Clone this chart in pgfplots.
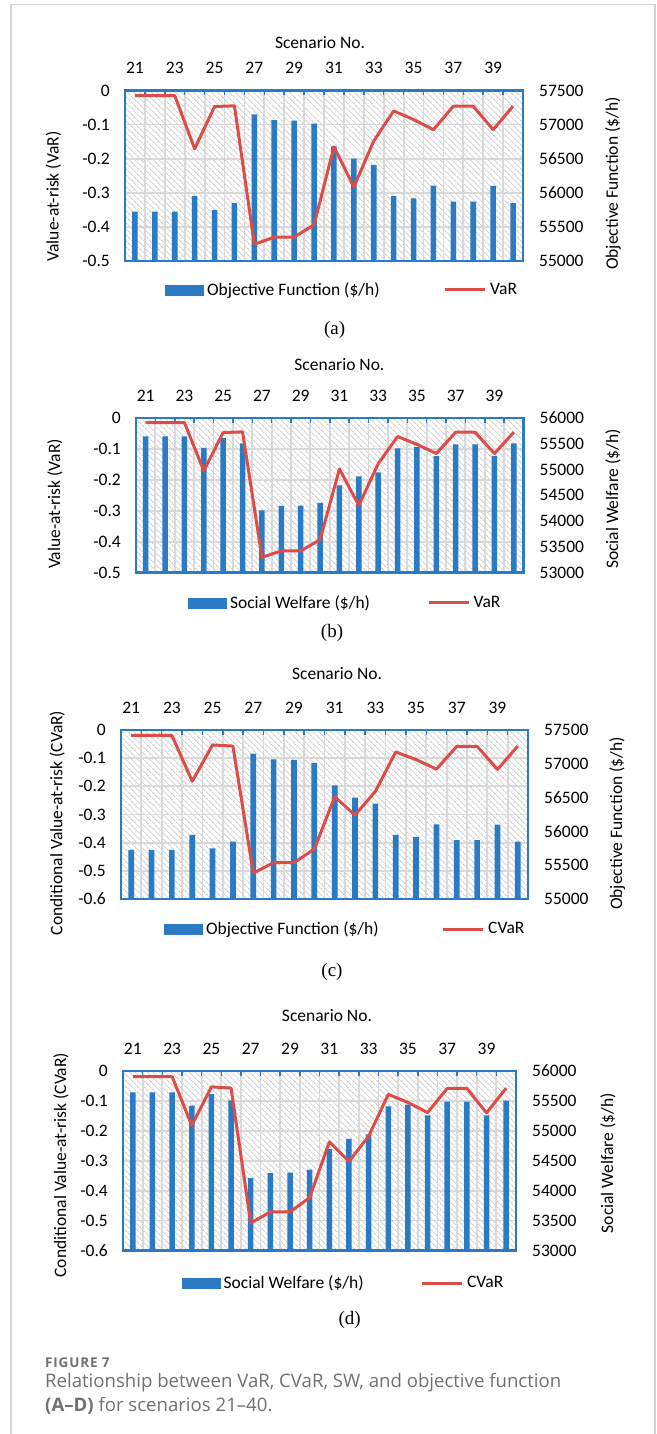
\documentclass[border=0pt]{standalone}
\usepackage{pgfplots}
\pgfplotsset{compat=1.18}
\usepackage{pgfplotstable}
\usepackage{fontspec}
\setmainfont{Carlito}
\newfontfamily\seriffont{Liberation Serif}
\newfontfamily\capfont{Open Sans}
\usetikzlibrary{patterns.meta}

\definecolor{barblue}{RGB}{42,122,196}
\definecolor{varred}{RGB}{222,76,72}
\definecolor{gridgray}{RGB}{217,217,217}
\definecolor{hatchgray}{RGB}{206,206,206}
\definecolor{framegray}{RGB}{212,212,212}
\definecolor{capgray}{RGB}{112,112,112}

\newcommand{\chartfont}{\fontsize{17.5}{20}\selectfont}

% scenario, objective function, social welfare, VaR, CVaR
\pgfplotstableread{
s   OF     SW     VaR     CVaR
21  55725  55645  -0.015  -0.019
22  55725  55645  -0.015  -0.019
23  55725  55645  -0.015  -0.019
24  55950  55420  -0.171  -0.182
25  55750  55615  -0.047  -0.053
26  55850  55508  -0.045  -0.057
27  57150  54208  -0.451  -0.508
28  57065  54295  -0.430  -0.471
29  57060  54300  -0.430  -0.471
30  57015  54350  -0.394  -0.423
31  56680  54693  -0.165  -0.237
32  56500  54865  -0.283  -0.302
33  56410  54943  -0.148  -0.218
34  55950  55410  -0.060  -0.078
35  55920  55437  -0.085  -0.105
36  56105  55260  -0.115  -0.139
37  55870  55487  -0.046  -0.058
38  55870  55487  -0.046  -0.058
39  56100  55260  -0.115  -0.140
40  55850  55507  -0.046  -0.057
}\scen

\pgfplotsset{
  panelbase/.style={scale only axis, xmin=20.5, xmax=40.5,
    tick label style={font=\chartfont}, label style={font=\chartfont},
    legend style={font=\chartfont}},
  % hatched plot area, grid and all left/top labels
  gridlayer/.style={panelbase, axis line style={draw=none}, major tick length=0pt,
    xtick={20.5,21.5,...,40.5}, xticklabels={},
    extra x ticks={21,23,...,39},
    extra x tick labels={21,23,25,27,29,31,33,35,37,39},
    extra x tick style={grid=none},
    xticklabel pos=right,
    xticklabel style={anchor=south, inner sep=0pt, yshift=16.5pt},
    xmajorgrids, ymajorgrids, grid style={gridgray, line width=1.8pt},
    yticklabel style={anchor=east, inner sep=0pt, xshift=-15pt},
    axis background/.style={pattern={Lines[angle=-45,distance=4pt,line width=0.9pt]},
      pattern color=hatchgray}},
  % bars on the right-hand scale
  barlayer/.style={panelbase, axis x line=none, axis y line*=right,
    axis line style={draw=none}, major tick length=0pt, scaled y ticks=false,
    yticklabel style={anchor=west, inner sep=0pt, xshift=16pt},
    ybar, bar width=0.28, bar shift=0pt},
  % risk curve, blue frame, top ticks and legend
  linelayer/.style={panelbase, axis line style={barblue, line width=2.2pt},
    xtick={20.5,21.5,...,40.5}, xticklabels={}, xtick pos=right,
    tick align=inside, major tick length=5pt,
    xtick style={barblue, line width=1.5pt}, ytick=\empty,
    legend columns=2, legend cell align=left,
    legend style={draw=none, fill=none, inner sep=0pt, nodes={inner sep=0pt},
      /tikz/every odd column/.append style={column sep=3.5pt}}},
  barkey/.style={legend image code/.code={\fill[barblue] (0pt,-5pt) rectangle (38pt,5pt);}},
  linekey/.style={legend image code/.code={\draw[varred, line width=3pt] (0pt,0pt) -- (40pt,0pt);}},
  riskline/.style={varred, line width=3pt, line join=round, mark=none},
  varticks/.style={ymin=-0.5, ymax=0, ytick={-0.5,-0.4,-0.3,-0.2,-0.1,0},
    yticklabels={-0.5,-0.4,-0.3,-0.2,-0.1,0}},
  cvarticks/.style={ymin=-0.6, ymax=0, ytick={-0.6,-0.5,-0.4,-0.3,-0.2,-0.1,0},
    yticklabels={-0.6,-0.5,-0.4,-0.3,-0.2,-0.1,0}},
  ofticks/.style={ymin=55000, ymax=57500, ytick={55000,55500,56000,56500,57000,57500},
    yticklabels={55000,55500,56000,56500,57000,57500}},
  swticks/.style={ymin=53000, ymax=56000, ytick={53000,53500,54000,54500,55000,55500,56000},
    yticklabels={53000,53500,54000,54500,55000,55500,56000}},
}

\begin{document}
\begin{tikzpicture}
\useasboundingbox (0,0) rectangle (656pt,-1434pt);
\draw[framegray, line width=1.3pt] (11pt,-1440pt) -- (11pt,-4.5pt) -- (655pt,-4.5pt) -- (655pt,-1440pt);

% ---------------- (a) ----------------
\begin{axis}[gridlayer, varticks, at={(125pt,-90.5pt)}, anchor=north west,
  width=398pt, height=170.5pt,
  xlabel={Scenario No.}, xlabel style={at={(axis description cs:0.490,1)}, anchor=center, yshift=48pt},
  ylabel={Value-at-risk (VaR)}, ylabel style={at={(axis description cs:-0.1796,0.378)}, anchor=center}]
\end{axis}
\begin{axis}[barlayer, ofticks, at={(125pt,-90.5pt)}, anchor=north west,
  width=398pt, height=170.5pt,
  ylabel={Objective Function (\$/h)}, ylabel style={at={(axis description cs:1.226,0.4545)}, anchor=center}]
\addplot[fill=barblue, draw=none] table[x=s, y=OF] {\scen};
\end{axis}
\begin{axis}[linelayer, varticks, ytick=\empty, at={(125pt,-90.5pt)}, anchor=north west,
  width=398pt, height=170.5pt,
  legend style={at={(axis description cs:0.1005,-0.170)}, anchor=west,
    /tikz/every even column/.append style={column sep=64pt}}]
\addlegendimage{barkey}\addlegendentry{Objective Function (\$/h)}
\addplot[riskline, linekey] table[x=s, y=VaR] {\scen};
\addlegendentry{VaR}
\end{axis}
\node[font=\seriffont\fontsize{19}{22}\selectfont] at (334.6pt,-330pt) {(a)};

% ---------------- (b) ----------------
\begin{axis}[gridlayer, varticks, at={(136pt,-418pt)}, anchor=north west,
  width=387.5pt, height=154.5pt,
  xlabel={Scenario No.}, xlabel style={at={(axis description cs:0.525,1)}, anchor=center, yshift=53pt},
  ylabel={Value-at-risk (VaR)}, ylabel style={at={(axis description cs:-0.209,0.443)}, anchor=center}]
\end{axis}
\begin{axis}[barlayer, swticks, at={(136pt,-418pt)}, anchor=north west,
  width=387.5pt, height=154.5pt,
  ylabel={Social Welfare (\$/h)}, ylabel style={at={(axis description cs:1.231,0.476)}, anchor=center}]
\addplot[fill=barblue, draw=none] table[x=s, y=SW] {\scen};
\end{axis}
\begin{axis}[linelayer, varticks, ytick=\empty, at={(136pt,-418pt)}, anchor=north west,
  width=387.5pt, height=154.5pt,
  legend style={at={(axis description cs:0.134,-0.1955)}, anchor=west,
    /tikz/every even column/.append style={column sep=57pt}}]
\addlegendimage{barkey}\addlegendentry{Social Welfare (\$/h)}
\addplot[riskline, linekey] table[x=s, y=VaR] {\scen};
\addlegendentry{VaR}
\end{axis}
\node[font=\seriffont\fontsize{19}{22}\selectfont] at (332pt,-633.3pt) {(b)};

% ---------------- (c) ----------------
\begin{axis}[gridlayer, cvarticks, at={(121pt,-730pt)}, anchor=north west,
  width=407pt, height=169pt,
  xlabel={Scenario No.}, xlabel style={at={(axis description cs:0.531,1)}, anchor=center, yshift=56pt},
  ylabel={Conditional Value-at-risk (CVaR)}, ylabel style={at={(axis description cs:-0.157,0.450)}, anchor=center}]
\end{axis}
\begin{axis}[barlayer, ofticks, at={(121pt,-730pt)}, anchor=north west,
  width=407pt, height=169pt,
  ylabel={Objective Function (\$/h)}, ylabel style={at={(axis description cs:1.219,0.447)}, anchor=center}]
\addplot[fill=barblue, draw=none] table[x=s, y=OF] {\scen};
\end{axis}
\begin{axis}[linelayer, cvarticks, ytick=\empty, at={(121pt,-730pt)}, anchor=north west,
  width=407pt, height=169pt,
  legend style={at={(axis description cs:0.1057,-0.1775)}, anchor=west,
    /tikz/every even column/.append style={column sep=63pt}}]
\addlegendimage{barkey}\addlegendentry{Objective Function (\$/h)}
\addplot[riskline, linekey] table[x=s, y=CVaR] {\scen};
\addlegendentry{CVaR}
\end{axis}
\node[font=\seriffont\fontsize{19}{22}\selectfont] at (332pt,-971.7pt) {(c)};

% ---------------- (d) ----------------
\begin{axis}[gridlayer, cvarticks, at={(123pt,-1071pt)}, anchor=north west,
  width=393pt, height=179.5pt,
  xlabel={Scenario No.}, xlabel style={at={(axis description cs:0.519,1)}, anchor=center, yshift=55pt},
  ylabel={Conditional Value-at-risk (CVaR)}, ylabel style={at={(axis description cs:-0.158,0.476)}, anchor=center}]
\end{axis}
\begin{axis}[barlayer, swticks, at={(123pt,-1071pt)}, anchor=north west,
  width=393pt, height=179.5pt,
  ylabel={Social Welfare (\$/h)}, ylabel style={at={(axis description cs:1.234,0.487)}, anchor=center}]
\addplot[fill=barblue, draw=none] table[x=s, y=SW] {\scen};
\end{axis}
\begin{axis}[linelayer, cvarticks, ytick=\empty, at={(123pt,-1071pt)}, anchor=north west,
  width=393pt, height=179.5pt,
  legend style={at={(axis description cs:0.1489,-0.181)}, anchor=west,
    /tikz/every even column/.append style={column sep=57pt}}]
\addlegendimage{barkey}\addlegendentry{Social Welfare (\$/h)}
\addplot[riskline, linekey] table[x=s, y=CVaR] {\scen};
\addlegendentry{CVaR}
\end{axis}
\node[font=\seriffont\fontsize{19}{22}\selectfont] at (349.6pt,-1320pt) {(d)};

% ---------------- caption ----------------
\node[anchor=base west, inner sep=0pt, text=capgray] at (45pt,-1367pt)
  {\capfont\bfseries\fontsize{13.5}{15}\selectfont\addfontfeature{LetterSpace=6}FIGURE 7};
\node[anchor=base west, inner sep=0pt, text=capgray] at (45pt,-1387pt)
  {\capfont\fontsize{18.6}{22}\selectfont Relationship between VaR, CVaR, SW, and objective function};
\node[anchor=base west, inner sep=0pt, text=capgray] at (45pt,-1411pt)
  {\capfont\fontsize{18.6}{22}\selectfont\textbf{(A–D)} for scenarios 21–40.};
\end{tikzpicture}
\end{document}
